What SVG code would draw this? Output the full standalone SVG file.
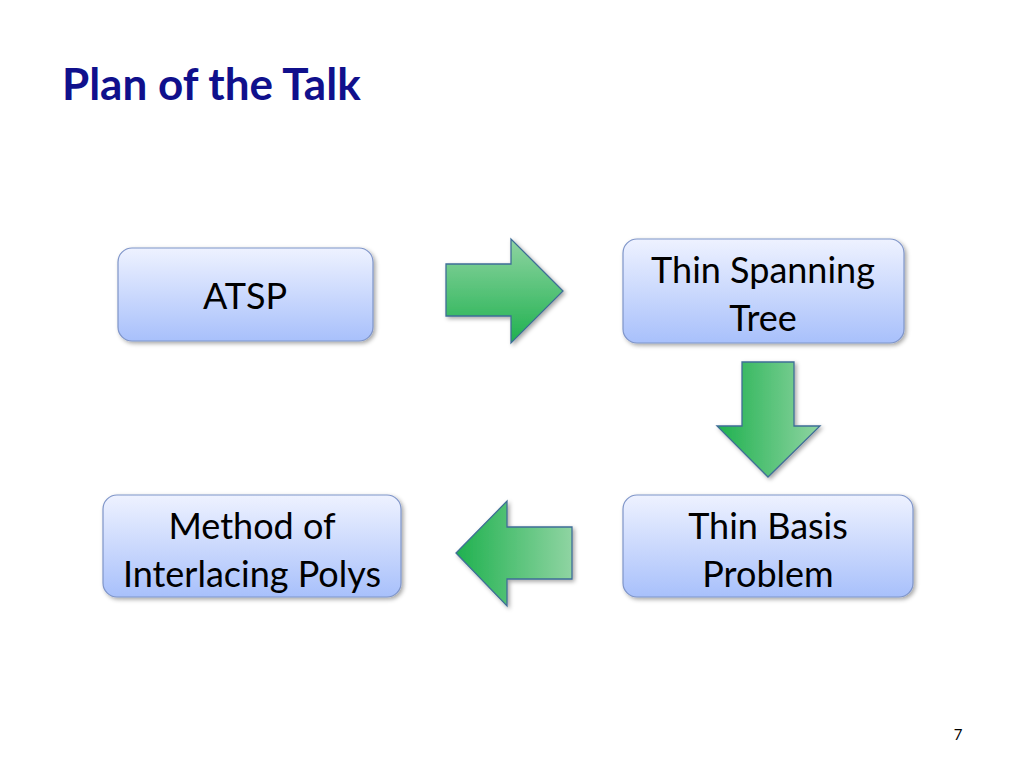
<svg xmlns="http://www.w3.org/2000/svg" width="1024" height="768" viewBox="0 0 1024 768">
<defs>
<linearGradient id="bx" x1="0" y1="0" x2="0" y2="1"><stop offset="0" stop-color="#eef2ff"/><stop offset="1" stop-color="#a8c0fb"/></linearGradient>
<linearGradient id="gv" x1="0" y1="0" x2="0" y2="1"><stop offset="0" stop-color="#8fd4a2"/><stop offset="1" stop-color="#1fb14f"/></linearGradient>
<linearGradient id="gh" x1="0" y1="0" x2="1" y2="0"><stop offset="0" stop-color="#1fb14f"/><stop offset="1" stop-color="#8fd4a2"/></linearGradient>
<filter id="sh" x="-10%" y="-10%" width="130%" height="130%"><feDropShadow dx="2" dy="2" stdDeviation="2" flood-opacity="0.35"/></filter>
</defs>
<style>
.box{fill:url(#bx);stroke:#7f95c9;stroke-width:1.2;filter:url(#sh)}
.t{font-family:Lato,"Open Sans","Liberation Sans",sans-serif;font-size:36px;fill:#000;text-anchor:middle}
.ar{stroke:#3f6e96;stroke-width:1.3;filter:url(#sh)}
</style>
<rect width="1024" height="768" fill="#fff"/>
<text x="62" y="100" font-family="Lato,'Open Sans','Liberation Sans',sans-serif" font-weight="bold" font-size="44" fill="#10108c">Plan of the Talk</text>
<g id="atsp"><rect class="box" x="118" y="248" width="255" height="93" rx="14"/><text class="t" x="245" y="309">ATSP</text></g>
<g id="tst"><rect class="box" x="623" y="239" width="281" height="104" rx="14"/><text class="t" x="763" y="283">Thin Spanning</text><text class="t" x="763" y="331">Tree</text></g>
<g id="tbp"><rect class="box" x="623" y="495" width="290" height="102" rx="14"/><text class="t" x="768" y="539">Thin Basis</text><text class="t" x="768" y="587">Problem</text></g>
<g id="mip"><rect class="box" x="103" y="495" width="298" height="102" rx="14"/><text class="t" x="252" y="539">Method of</text><text class="t" x="252" y="587">Interlacing Polys</text></g>
<g id="connectors">
<polygon class="ar" fill="url(#gv)" points="446,264 511,264 511,239 563,291 511,343 511,316 446,316"/>
<polygon class="ar" fill="url(#gh)" points="742,362 794,362 794,426 820,426 768,477 717,426 742,426"/>
<polygon class="ar" fill="url(#gh)" points="572,527 507,527 507,501 456,553 507,606 507,579 572,579"/>
</g>
<text x="958" y="740" font-family="Lato,'Liberation Sans',sans-serif" font-size="15" text-anchor="middle">7</text>
</svg>
